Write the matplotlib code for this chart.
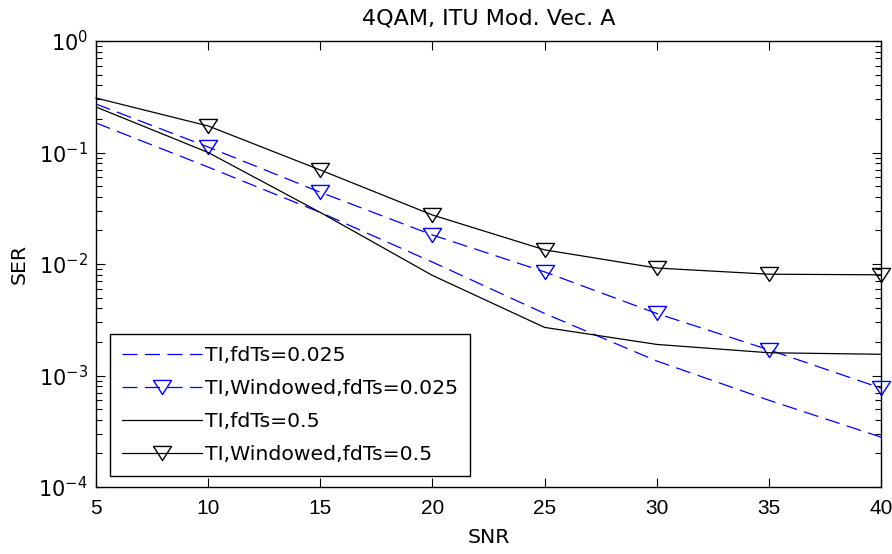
import matplotlib
matplotlib.use("Agg")
import matplotlib.pyplot as plt

snr = [5, 10, 15, 20, 25, 30, 35, 40]
ser_ti_0025 = [0.184, 0.074, 0.029, 0.0104, 0.0036, 0.00135, 0.0006, 0.00028]
ser_tiw_0025 = [0.272, 0.112, 0.044, 0.0182, 0.0085, 0.0036, 0.0017, 0.00077]
ser_ti_05 = [0.256, 0.100, 0.029, 0.0079, 0.0027, 0.0019, 0.0016, 0.00155]
ser_tiw_05 = [0.308, 0.173, 0.0697, 0.0275, 0.0134, 0.0092, 0.0081, 0.0080]

labels = ["TI,fdTs=0.025", "TI,Windowed,fdTs=0.025", "TI,fdTs=0.5", "TI,Windowed,fdTs=0.5"]

plt.rcParams["font.family"] = ["DejaVu Sans"]
plt.rcParams["mathtext.fontset"] = "custom"
plt.rcParams["mathtext.rm"] = "Liberation Sans"
plt.rcParams["mathtext.it"] = "Liberation Sans"
plt.rcParams["mathtext.default"] = "regular"
plt.rcParams["axes.unicode_minus"] = False

fs = 14.7
fig = plt.figure(figsize=(8.92, 5.54), dpi=100)
ax = fig.add_axes([96/892, 1-487/554, 785/892, 446/554])

# wide, flat downward triangle like MATLAB's 'v'
tri = [(-1, 0.78), (1, 0.78), (0, -0.78), (-1, 0.78)]
lw = 0.9
dash = (0, (12, 6))
mk = dict(marker=tri, ms=13, mfc="none", mew=1.0, markevery=range(1, 8), clip_on=False)
ax.plot(snr, ser_ti_0025, color="blue", lw=lw, linestyle=dash, label=labels[0])
ax.plot(snr, ser_tiw_0025, color="blue", lw=lw, linestyle=dash, mec="blue",
        label=labels[1], **mk)
ax.plot(snr, ser_ti_05, color="black", lw=lw, label=labels[2])
ax.plot(snr, ser_tiw_05, color="black", lw=lw, mec="black", label=labels[3], **mk)

ax.set_yscale("log")
ax.set_xlim(5, 40)
ax.set_ylim(1e-4, 1)
ax.set_xticks(range(5, 41, 5))
ax.tick_params(which="both", direction="in", top=True, right=True, labelsize=15)
ax.tick_params(which="major", length=6.5, width=0.8)
ax.tick_params(which="minor", length=4, width=0.8)
ax.tick_params(axis="x", pad=9)
ax.tick_params(axis="y", pad=6)
for lab in ax.get_xticklabels():
    lab.set_fontfamily("Liberation Sans")
for s in ax.spines.values():
    s.set_linewidth(1.0)

ax.set_title("4QAM, ITU Mod. Vec. A", fontsize=16, pad=12)
ax.set_xlabel("SNR", fontsize=fs, labelpad=7)
ax.set_ylabel("SER", fontsize=fs, labelpad=7)

leg = ax.legend(loc="lower left", bbox_to_anchor=(0.0178, 0.0247), borderaxespad=0,
                fontsize=fs, handlelength=3.9, handletextpad=0.15, labelspacing=0.68,
                borderpad=0.6, fancybox=False, framealpha=1, edgecolor="black")
leg.get_frame().set_linewidth(1.0)
for h in leg.legend_handles:
    h.set_markevery([1])

plt.savefig("out.png", dpi=100)
